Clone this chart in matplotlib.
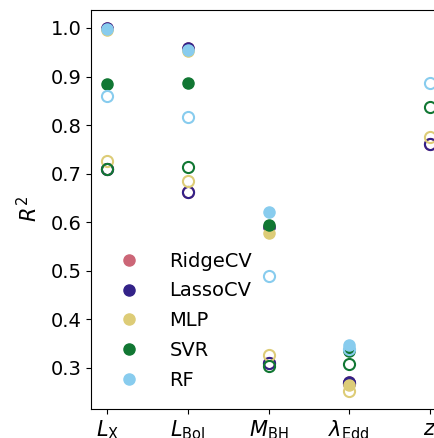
import numpy as np
import matplotlib
matplotlib.use("Agg")
import matplotlib.pyplot as plt

features = [r"$L_{\rm X}$", r"$L_{\rm Bol}$", r"$M_{\rm BH}$", r"$\lambda_{\rm Edd}$", r"$z$"]
models = ["RidgeCV", "LassoCV", "MLP", "SVR", "RF"]
colors = ["#CC6677", "#332288", "#DDCC77", "#117733", "#88CCEE"]

nan = np.nan
# filled markers
ridge_filled = [0.999, 0.958, 0.590, 0.272, nan]
lasso_filled = [0.999, 0.958, 0.590, 0.272, nan]
mlp_filled = [0.996, 0.952, 0.577, 0.264, nan]
svr_filled = [0.885, 0.887, 0.594, 0.334, nan]
rf_filled = [0.998, 0.955, 0.621, 0.348, nan]

# open markers
ridge_open = [0.710, 0.662, 0.311, 0.270, 0.762]
lasso_open = [0.710, 0.662, 0.311, 0.270, 0.762]
mlp_open = [0.726, 0.685, 0.326, 0.252, 0.775]
svr_open = [0.709, 0.714, 0.305, 0.309, 0.838]
rf_open = [0.860, 0.817, 0.489, 0.340, 0.886]

filled = [ridge_filled, lasso_filled, mlp_filled, svr_filled, rf_filled]
opened = [ridge_open, lasso_open, mlp_open, svr_open, rf_open]

fig = plt.figure(figsize=(4.34, 4.38), dpi=100)
ax = fig.add_axes([0.2097, 0.0662, 0.818, 0.9110])

x = np.arange(len(features))
for name, c, fv, ov in zip(models, colors, filled, opened):
    ax.plot(x, ov, linestyle="none", marker="o", markersize=8,
            markerfacecolor="none", markeredgecolor=c, markeredgewidth=1.5)
    ax.plot(x, fv, linestyle="none", marker="o", markersize=8,
            markerfacecolor=c, markeredgecolor=c, markeredgewidth=1.0, label=name)

ax.set_xticks(x)
ax.set_xticklabels(features, fontsize=15)
ax.set_xlim(-0.2, 4.2)
ax.set_ylim(0.2155, 1.037)
ax.set_yticks([0.3, 0.4, 0.5, 0.6, 0.7, 0.8, 0.9, 1.0])
ax.tick_params(axis="y", labelsize=14)
ax.set_ylabel(r"$R^2$", fontsize=15)
ax.yaxis.set_label_coords(-0.139, 0.5)
ax.legend(loc="lower left", frameon=False, fontsize=14, bbox_to_anchor=(0.002, 0.005),
          handletextpad=1.1, labelspacing=0.55)

fig.savefig("out.png", dpi=100)
